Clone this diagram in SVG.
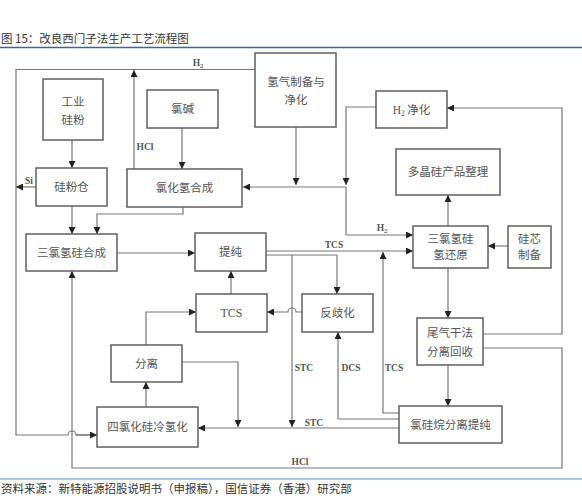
<svg xmlns="http://www.w3.org/2000/svg" width="582" height="498" viewBox="0 0 582 498">
<style>
.box{fill:#fff;stroke:#5f5f5f;stroke-width:1.5}
.t{font-family:"Noto Sans CJK SC","Liberation Serif",sans-serif;font-size:11.5px;fill:#555;text-anchor:middle}
.ts{font-family:"Liberation Serif","Noto Sans CJK SC",serif;font-size:12px;fill:#555;text-anchor:middle}
.lb{font-family:"Liberation Serif",serif;font-size:9.5px;font-weight:bold;fill:#555;text-anchor:middle}
.ln{fill:none;stroke:#777;stroke-width:1.2}
.ar{marker-end:url(#ah)}
.cap{font-family:"Noto Sans CJK SC","Liberation Sans",sans-serif;font-size:11.5px;fill:#333}
</style>
<defs>
<marker id="ah" markerWidth="7" markerHeight="7" refX="7" refY="3.5" orient="auto" markerUnits="userSpaceOnUse">
<path d="M0,0 L7,3.5 L0,7 z" fill="#222"/>
</marker>
</defs>
<rect width="582" height="498" fill="#fff"/>
<text class="cap" x="1" y="43">图 15：改良西门子法生产工艺流程图</text>
<line x1="0" y1="47.5" x2="582" y2="47.5" stroke="#2f6aa0" stroke-width="1.5"/>
<line x1="0" y1="479" x2="582" y2="479" stroke="#8db5de" stroke-width="1.5"/>
<text class="cap" x="1" y="493">资料来源：新特能源招股说明书（申报稿），国信证券（香港）研究部</text>

<g id="connectors">
<path class="ln" d="M255,69.5 H16 V435 H68 a4,4 0 0 1 8,0 H97"/>
<path class="ln ar" d="M76,435 H97"/>
<path class="ln ar" d="M134,169 V70"/>
<path class="ln ar" d="M72,140 V168"/>
<path class="ln ar" d="M36,187 H16"/>
<path class="ln ar" d="M72,206 V234"/>
<path class="ln ar" d="M182,128 V169"/>
<path class="ln ar" d="M183,207 V214 H97 V234"/>
<path class="ln ar" d="M296,127 V185"/>
<path class="ln ar" d="M376,107 H346 V185"/>
<path class="ln ar" d="M346,187 H243"/>
<path class="ln ar" d="M346,187 V235 H413"/>
<path class="ln ar" d="M117,253 H195"/>
<path class="ln ar" d="M266,251 H413"/>
<path class="ln ar" d="M266,255 H337 V294"/>
<path class="ln ar" d="M292,255 V427"/>
<path class="ln ar" d="M302,312 H296 a4,4 0 0 0 -8,0 H267"/>
<path class="ln ar" d="M231,294 V271"/>
<path class="ln ar" d="M146,345 V312 H196"/>
<path class="ln ar" d="M182,362 H238 V427"/>
<path class="ln ar" d="M146,407 V382"/>
<path class="ln ar" d="M399,428 H198"/>
<path class="ln ar" d="M399,419 H338 V332"/>
<path class="ln ar" d="M399,413 H383 V252"/>
<path class="ln ar" d="M508,246 H488"/>
<path class="ln ar" d="M448,226 V195"/>
<path class="ln ar" d="M448,268 V318"/>
<path class="ln ar" d="M448,365 V406"/>
<path class="ln ar" d="M483,334 H562 V108 H447"/>
<path class="ln ar" d="M483,348 H562 V468 H72 V271"/>
<text class="lb" x="198" y="66">H<tspan font-size="6.5" dy="2">2</tspan></text>
<text class="lb" x="145" y="150">HCl</text>
<text class="lb" x="29" y="184">Si</text>
<text class="lb" x="382" y="231">H<tspan font-size="6.5" dy="2">2</tspan></text>
<text class="lb" x="334" y="248">TCS</text>
<text class="lb" x="304" y="371">STC</text>
<text class="lb" x="351" y="371">DCS</text>
<text class="lb" x="394" y="371">TCS</text>
<text class="lb" x="314" y="426">STC</text>
<text class="lb" x="300" y="465">HCl</text>
</g>

<g id="n-gongye"><rect class="box" x="43" y="79" width="60" height="61"/><text class="t" x="73" y="106">工业</text><text class="t" x="73" y="124">硅粉</text></g>
<g id="n-lujian"><rect class="box" x="147" y="90" width="71" height="38"/><text class="t" x="182.5" y="113">氯碱</text></g>
<g id="n-qingqi"><rect class="box" x="255" y="53" width="81" height="74"/><text class="t" x="296" y="86">氢气制备与</text><text class="t" x="296" y="104">净化</text></g>
<g id="n-h2"><rect class="box" x="376" y="91" width="71" height="37"/><text class="t" x="411.5" y="114"><tspan font-family="Liberation Serif">H</tspan><tspan font-family="Liberation Serif" font-size="7.5" dy="2">2</tspan><tspan dy="-2"> 净化</tspan></text></g>
<g id="n-guifencang"><rect class="box" x="36" y="168" width="71" height="38"/><text class="t" x="71.5" y="191">硅粉仓</text></g>
<g id="n-hcl"><rect class="box" x="127" y="169" width="115" height="38"/><text class="t" x="184.5" y="192">氯化氢合成</text></g>
<g id="n-duojing"><rect class="box" x="396" y="149" width="104" height="46"/><text class="t" x="448" y="176">多晶硅产品整理</text></g>
<g id="n-sanlv"><rect class="box" x="26" y="234" width="91" height="37"/><text class="t" x="71.5" y="257">三氯氢硅合成</text></g>
<g id="n-tichun"><rect class="box" x="195" y="233" width="71" height="38"/><text class="t" x="230.5" y="256">提纯</text></g>
<g id="n-huanyuan"><rect class="box" x="413" y="226" width="75" height="42"/><text class="t" x="450.5" y="243">三氯氢硅</text><text class="t" x="450.5" y="259">氢还原</text></g>
<g id="n-guixin"><rect class="box" x="508" y="226" width="43" height="42"/><text class="t" x="529.5" y="243">硅芯</text><text class="t" x="529.5" y="259">制备</text></g>
<g id="n-tcs"><rect class="box" x="196" y="294" width="71" height="38"/><text class="ts" x="231.5" y="317">TCS</text></g>
<g id="n-fanqihua"><rect class="box" x="302" y="294" width="71" height="38"/><text class="t" x="337.5" y="317">反歧化</text></g>
<g id="n-weiqi"><rect class="box" x="417" y="318" width="66" height="47"/><text class="t" x="450" y="337">尾气干法</text><text class="t" x="450" y="356">分离回收</text></g>
<g id="n-fenli"><rect class="box" x="111" y="345" width="71" height="37"/><text class="t" x="146.5" y="368">分离</text></g>
<g id="n-silv"><rect class="box" x="97" y="407" width="101" height="40"/><text class="t" x="147.5" y="431">四氯化硅冷氢化</text></g>
<g id="n-lvguiwan"><rect class="box" x="399" y="406" width="103" height="37"/><text class="t" x="450.5" y="429">氯硅烷分离提纯</text></g>
</svg>
